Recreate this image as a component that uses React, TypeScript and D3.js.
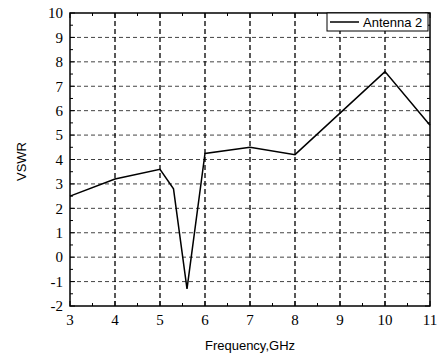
import React from "react";
import * as d3 from "d3";

const freq = [3, 4, 5, 5.3, 5.6, 6, 7, 8, 10, 11];
const vswr = [2.5, 3.2, 3.6, 2.8, -1.3, 4.25, 4.5, 4.2, 7.6, 5.4];
const xTicks = [3, 4, 5, 6, 7, 8, 9, 10, 11];
const yTicks = [-2, -1, 0, 1, 2, 3, 4, 5, 6, 7, 8, 9, 10];
const seriesName = "Antenna 2";

const SERIF = "Times, 'Times New Roman', 'Liberation Serif', 'DejaVu Serif', 'Noto Serif', serif";
const SANS = "'Liberation Sans', Arial, sans-serif";

export default function App() {
  const W = 441, H = 358;
  const L = 70, R = 430, T = 13, B = 306;
  const x = d3.scaleLinear().domain([3, 11]).range([L, R]);
  const y = d3.scaleLinear().domain([-2, 10]).range([B, T]);
  const line = d3.line<number>().x((_, i) => x(freq[i])).y((d) => y(d));
  const minorX = d3.range(3.5, 11, 1);
  const minorY = d3.range(-1.5, 10, 1);
  return (
    <svg width={W} height={H} style={{ position: "absolute", left: 0, top: 0 }}>
      <rect width={W} height={H} fill="#fff" />
      {yTicks.slice(1, -1).map((t) => (
        <line key={"gy" + t} x1={L} x2={R} y1={y(t)} y2={y(t)} stroke="#444" strokeWidth={1} strokeDasharray="4,3" />
      ))}
      {xTicks.slice(1, -1).map((t) => (
        <line key={"gx" + t} x1={x(t)} x2={x(t)} y1={T} y2={B} stroke="#000" strokeWidth={1.3} strokeDasharray="5,3" />
      ))}
      {minorX.map((t) => (
        <g key={"mx" + t}>
          <line x1={x(t)} x2={x(t)} y1={B} y2={B - 3} stroke="#000" />
          <line x1={x(t)} x2={x(t)} y1={T} y2={T + 3} stroke="#000" />
        </g>
      ))}
      {minorY.map((t) => (
        <g key={"my" + t}>
          <line x1={L} x2={L + 3} y1={y(t)} y2={y(t)} stroke="#000" />
          <line x1={R} x2={R - 3} y1={y(t)} y2={y(t)} stroke="#000" />
        </g>
      ))}
      {xTicks.map((t) => (
        <g key={"mjx" + t}>
          <line x1={x(t)} x2={x(t)} y1={B} y2={B - 5} stroke="#000" />
          <line x1={x(t)} x2={x(t)} y1={T} y2={T + 5} stroke="#000" />
        </g>
      ))}
      {yTicks.map((t) => (
        <g key={"mjy" + t}>
          <line x1={L} x2={L + 5} y1={y(t)} y2={y(t)} stroke="#000" />
          <line x1={R} x2={R - 5} y1={y(t)} y2={y(t)} stroke="#000" />
        </g>
      ))}
      <rect x={L} y={T} width={R - L} height={B - T} fill="none" stroke="#000" strokeWidth={1.5} />
      <path d={line(vswr) || ""} fill="none" stroke="#000" strokeWidth={1.5} strokeLinejoin="miter" />
      {yTicks.map((t) => (
        <text key={"ly" + t} x={63} y={y(t)} dy="0.35em" textAnchor="end" fontFamily={SERIF} fontSize={15}>
          {t}
        </text>
      ))}
      {xTicks.map((t) => (
        <text key={"lx" + t} x={x(t)} y={325} textAnchor="middle" fontFamily={SERIF} fontSize={15}>
          {t}
        </text>
      ))}
      <text x={(L + R) / 2} y={350} textAnchor="middle" fontFamily={SANS} fontSize={13}>
        Frequency,GHz
      </text>
      <text transform={`translate(26,161.5) rotate(-90)`} textAnchor="middle" fontFamily={SANS} fontSize={13}>
        VSWR
      </text>
      <rect x={327} y={T} width={101} height={18} fill="#fff" stroke="#000" strokeWidth={1} />
      <line x1={330} x2={359} y1={22} y2={22} stroke="#000" strokeWidth={1.5} />
      <text x={363} y={26.5} fontFamily={SANS} fontSize={13}>
        {seriesName}
      </text>
    </svg>
  );
}
